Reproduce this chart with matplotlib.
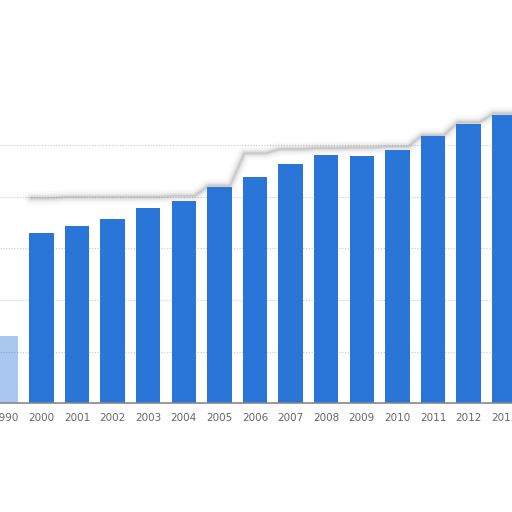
import matplotlib
matplotlib.use("Agg")
import matplotlib.pyplot as plt
import numpy as np

years = ["1990", "2000", "2001", "2002", "2003", "2004", "2005", "2006",
         "2007", "2008", "2009", "2010", "2011", "2012", "2013"]
values = [1.3, 3.30, 3.44, 3.57, 3.79, 3.92, 4.19, 4.39,
          4.64, 4.82, 4.80, 4.91, 5.18, 5.42, 5.59]
# faint grey "ghost" outline seen above the bars
ghost = [None, 3.98, 4.0, 4.0, 4.0, 4.02, 4.22, 4.85,
         4.93, 4.95, 4.96, 4.98, 5.2, 5.45, 5.62]

W = 512
fig = plt.figure(figsize=(5.12, 5.12), dpi=100)
base_px = 109
ax = fig.add_axes([0, base_px / W, 1, 1 - base_px / W])
unit = 51.5
ax.set_ylim(0, (W - base_px) / unit)
slot = 35.6
x0 = 5.8
ax.set_xlim(-x0 / slot, (W - x0) / slot)

x = np.arange(len(years))
blue = "#2a75d8"
alphas = [0.4] + [1.0] * (len(years) - 1)
for xi, v, a in zip(x, values, alphas):
    ax.bar(xi, v, width=0.68, color=blue, alpha=a, zorder=3, linewidth=0)

# ghost outline
gx, gy = [], []
for xi, g in zip(x, ghost):
    if g is not None:
        gx += [xi - 0.3, xi + 0.3]
        gy += [g, g]
for lw, al in [(10, 0.03), (7, 0.05), (4.5, 0.08), (2.5, 0.12), (1.2, 0.14)]:
    ax.plot(gx, gy, color="#707070", lw=lw, alpha=al, zorder=2,
            solid_capstyle="round", solid_joinstyle="round")

for gyv in [1, 2, 3, 4, 5]:
    ax.axhline(gyv, color="#c8c8c8", lw=0.8, ls=(0, (1, 1.5)), zorder=1)

for s in ["top", "right", "left"]:
    ax.spines[s].set_visible(False)
ax.spines["bottom"].set_color("#888888")
ax.spines["bottom"].set_linewidth(1.2)
ax.spines["bottom"].set_zorder(4)
ax.set_yticks([])
ax.set_xticks(x)
ax.set_xticklabels(years, fontsize=7.5, color="#666666")
ax.tick_params(axis="x", length=0, pad=7)

fig.savefig("out.png", dpi=100)
